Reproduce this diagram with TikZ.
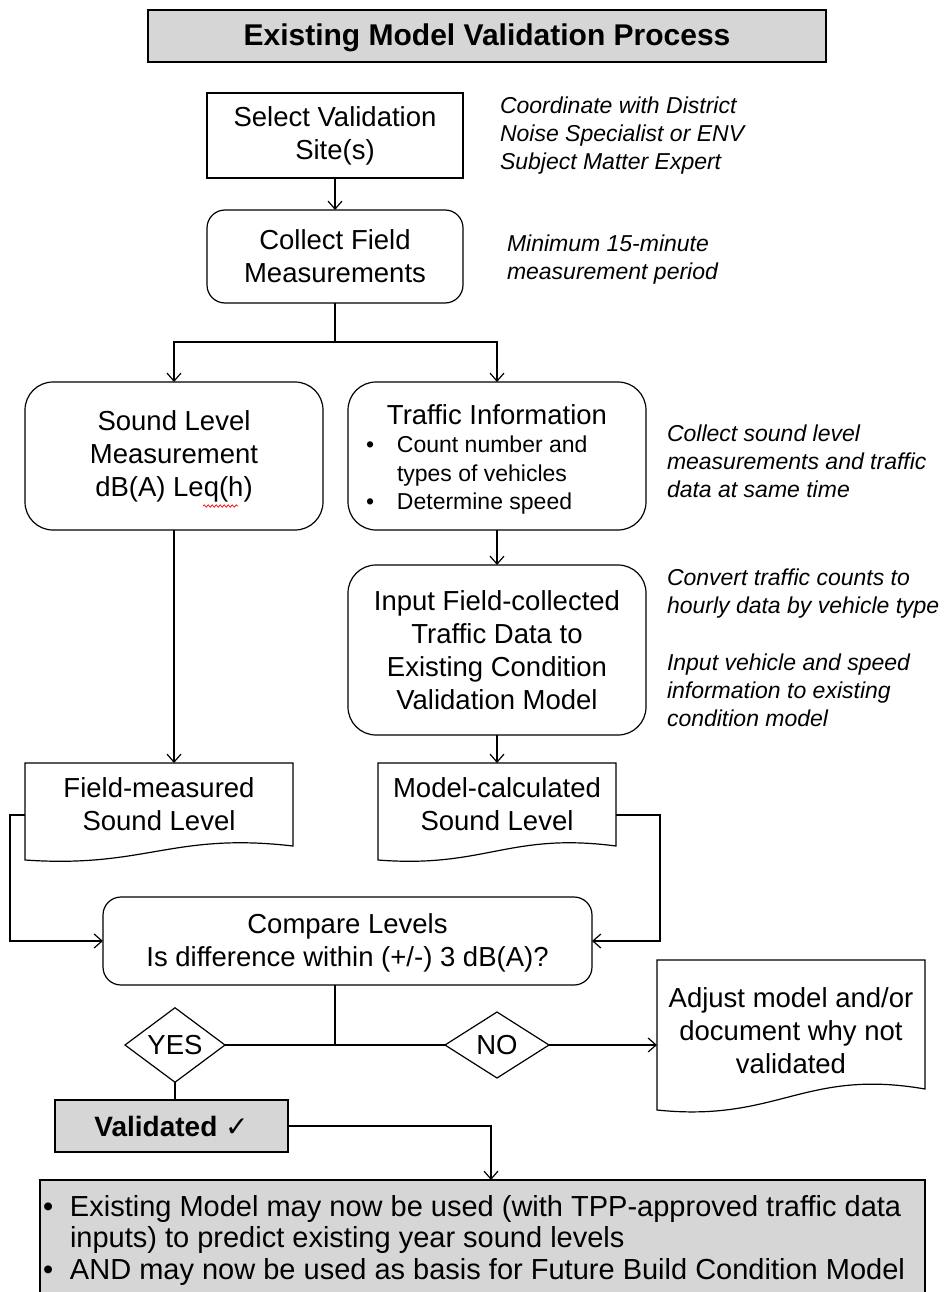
\documentclass[tikz,border=0pt]{standalone}
\usepackage{fontspec}
\setmainfont{Liberation Sans}
\newfontfamily\symfont{DejaVu Sans}
\usetikzlibrary{arrows.meta,shapes.geometric,calc,decorations.pathmorphing}
\definecolor{panelgray}{RGB}{214,214,214}

% document symbol: flat top, wavy bottom; #2 = how far the left corner sits below the right one
\newcommand\docpath[2]{%
  \draw (#1.south east) -- (#1.north east) -- (#1.north west) -- ($(#1.south west)+(0,#2)$)
    .. controls ($(#1.south west)!0.45!(#1.south east)+(0,#2*1.6)$)
       and ($(#1.south west)!0.55!(#1.south east)+(0,-#2)$) .. (#1.south east) -- cycle;}

\begin{document}
\begin{tikzpicture}[x=1pt,y=-1pt,
  line width=1.2pt,
  every node/.style={inner sep=0pt, outer sep=0pt},
  boxtext/.style={font=\fontsize{27.5}{33}\selectfont, align=center},
  notetext/.style={font=\fontsize{23}{28}\selectfont\itshape, align=left, anchor=north west},
  plainbox/.style={draw, boxtext},
  roundbox/.style={draw, rounded corners=18pt, boxtext},
  shadedbox/.style={draw, fill=panelgray, align=center},
  decision/.style={draw, diamond, boxtext},
  arr/.style={-{Straight Barb[length=8pt,width=14pt]}},
]
\useasboundingbox (0,0) rectangle (945,1292);

% header
\node[shadedbox, minimum width=678, minimum height=52] (title) at (487,36) {};
\node[font=\fontsize{30}{36}\selectfont\bfseries] (titletext) at (487,38) {Existing Model Validation Process};

% main column
\node[plainbox, minimum width=256, minimum height=85] (select) at (335,135.5) {Select Validation\\Site(s)};
\node[roundbox, minimum width=256, minimum height=93] (collect) at (335,256.5) {Collect Field\\Measurements};

\node[roundbox, rounded corners=28pt, minimum width=298, minimum height=148] (sound) at (174,456)
  {Sound Level\\Measurement\\dB(A) Leq(h)};
\draw[red, line width=0.7pt, decorate, decoration={snake, amplitude=1.2pt, segment length=4pt}]
  ($(sound.center)+(29,50)$) -- ($(sound.center)+(64,50)$);

\node[roundbox, rounded corners=28pt, minimum width=298, minimum height=148] (traffic) at (497,456) {};
\node[boxtext] (traffictitle) at (497,415) {Traffic Information};
\node[anchor=north west, align=left, font=\fontsize{23}{28.5}\selectfont] (trafficlist) at (366,436)
  {\makebox[31pt][l]{\textbullet}Count number and\\
   \hspace*{31pt}types of vehicles\\
   \makebox[31pt][l]{\textbullet}Determine speed};

\node[roundbox, rounded corners=28pt, minimum width=298, minimum height=170] (input) at (497,650)
  {Input Field-collected\\Traffic Data to\\Existing Condition\\Validation Model};

\node[boxtext, minimum width=268, minimum height=83] (field) at (159,804.5) {Field-measured\\Sound Level};
\docpath{field}{14}
\node[boxtext, minimum width=238, minimum height=83] (model) at (497,804.5) {Model-calculated\\Sound Level};
\docpath{model}{14}

\node[roundbox, minimum width=489, minimum height=88] (compare) at (347.5,941) {};
\node[boxtext] (comparetext) at (347.5,943) {Compare Levels\\Is difference within (+/-) 3 dB(A)?};

\node[decision, minimum width=100, minimum height=66] (yes) at (175,1045) {YES};
\node[decision, minimum width=104, minimum height=66] (no) at (497,1045) {NO};

\node[minimum width=268, minimum height=129] (adjust) at (791,1024.5) {};
\docpath{adjust}{21}
\node[boxtext] (adjusttext) at (791,1031) {Adjust model and/or\\document why not\\validated};

\node[shadedbox, minimum width=233, minimum height=52,
      font=\fontsize{28}{33}\selectfont\bfseries] (validated) at (171.5,1126) {Validated {\symfont ✓}};

\node[draw, fill=panelgray, minimum width=885, minimum height=130, anchor=north west] (summary) at (40,1180) {};
\node[anchor=north west, align=left, font=\fontsize{29}{31.5}\selectfont] (summarytext) at (43,1195)
  {\makebox[27pt][l]{\textbullet}Existing Model may now be used (with TPP-approved traffic data\\
   \hspace*{27pt}inputs) to predict existing year sound levels\\
   \makebox[27pt][l]{\textbullet}AND may now be used as basis for Future Build Condition Model};

% side notes
\node[notetext] (note1) at (500,97) {Coordinate with District\\Noise Specialist or ENV\\Subject Matter Expert};
\node[notetext] (note2) at (507,235) {Minimum 15-minute\\measurement period};
\node[notetext] (note3) at (667,425) {Collect sound level\\measurements and traffic\\data at same time};
\node[notetext] (note4) at (667,569) {Convert traffic counts to\\hourly data by vehicle type};
\node[notetext] (note5) at (667,654) {Input vehicle and speed\\information to existing\\condition model};

% connectors
\coordinate (split) at (335,342);
\coordinate (branch) at (335,1045);
\coordinate (feed) at (491,1180);

\draw[arr] (select) -- (collect);
\draw (collect.south) -- (split);
\draw[arr] (split) -| (sound.north);
\draw[arr] (split) -| (traffic.north);
\draw[arr] (sound.south) -- (sound.south |- field.north);
\draw[arr] (traffic.south) -- (input.north);
\draw[arr] (input.south) -- (model.north);
\draw[arr] ($(field.north west)+(0,52)$) -- ++(-15,0) |- (compare.west);
\draw[arr] ($(model.north east)+(0,52)$) -- ++(44,0) |- (compare.east);
\draw (compare.south -| branch) -- (branch);
\draw (yes.east) -- (no.west);
\draw[arr] (no.east) -- (no.east -| adjust.west);
\draw (yes.south) -- (yes.south |- validated.north);
\draw[arr] (validated.east) -| (feed);
\end{tikzpicture}
\end{document}
